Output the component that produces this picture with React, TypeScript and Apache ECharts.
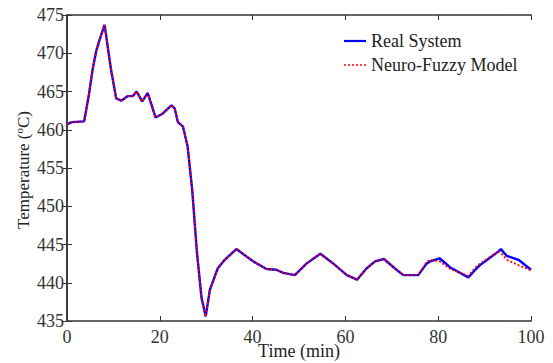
import React, { useEffect, useRef } from "react";
import * as echarts from "echarts";

const timeMin = [0, 1, 3.7, 4.7, 5.5, 6.3, 7.0, 8.1, 9.5, 10.6, 11.7, 13.1, 14.2, 15, 16.2, 17.4, 19.1, 20.6, 22.5, 23.2, 23.9, 25, 26, 27, 28, 29, 29.9, 30.8, 32.5, 34, 36.5, 40.1, 43, 45.1, 46.6, 49.1, 51.6, 54.6, 57.4, 60.3, 62.5, 64.6, 66.4, 68.3, 71, 72.5, 75.7, 77.5, 78.3, 80.3, 82.6, 86.5, 88, 89, 91, 93, 93.5, 94.8, 97.3, 100];
const realSystem = [460.7, 461, 461.1, 464.5, 467.8, 470.3, 471.7, 473.7, 467.8, 464.1, 463.8, 464.4, 464.4, 465, 463.7, 464.8, 461.6, 462.1, 463.2, 462.8, 461, 460.4, 457.8, 452, 444, 438, 435.6, 439.1, 441.9, 443, 444.4, 442.8, 441.8, 441.7, 441.3, 441, 442.5, 443.8, 442.5, 441, 440.4, 441.9, 442.8, 443.1, 441.7, 441, 441, 442.5, 442.8, 443.2, 442, 440.7, 441.7, 442.3, 443.2, 444.1, 444.4, 443.5, 443, 441.7];
const neuroFuzzy = [460.7, 461, 461.1, 464.5, 467.8, 470.3, 471.7, 473.7, 467.8, 464.1, 463.8, 464.4, 464.4, 465, 463.7, 464.8, 461.6, 462.1, 463.2, 462.8, 461, 460.4, 457.8, 452, 444, 438, 435.6, 439.1, 441.9, 443, 444.4, 442.8, 441.8, 441.7, 441.3, 441, 442.5, 443.8, 442.5, 441, 440.4, 441.9, 442.8, 443.1, 441.7, 441, 441, 442.7, 443, 442.8, 441.8, 440.9, 442, 442.5, 443.3, 444.1, 443.9, 443, 442.3, 441.6];

const xTicks = [0, 20, 40, 60, 80, 100];
const yTicks = [435, 440, 445, 450, 455, 460, 465, 470, 475];

export default function App() {
  const ref = useRef<HTMLDivElement>(null);
  useEffect(() => {
    if (!ref.current) return;
    const chart = echarts.init(ref.current, null, { renderer: "svg" });
    const font = "'Liberation Serif', 'Times New Roman', serif";
    const axisColor = "#333";
    const real = timeMin.map((t, i) => [t, realSystem[i]]);
    const model = timeMin.map((t, i) => [t, neuroFuzzy[i]]);
    chart.setOption({
      animation: false,
      backgroundColor: "#fff",
      textStyle: { fontFamily: font },
      grid: { left: 67, right: 22, top: 15, bottom: 42, outerBoundsMode: "none", containLabel: false },
      legend: {
        left: 339,
        top: 27,
        orient: "vertical",
        itemWidth: 22,
        itemHeight: 10,
        itemGap: 6,
        textStyle: { fontFamily: font, fontSize: 18, color: "#222" },
        data: [
          { name: "Real System", icon: "path://M0,0 L22,0 L22,2.2 L0,2.2 Z", itemStyle: { color: "#0000ff" } },
          { name: "Neuro-Fuzzy Model", icon: "path://M0,0 L2,0 L2,1.5 L0,1.5 Z M4,0 L6,0 L6,1.5 L4,1.5 Z M8,0 L10,0 L10,1.5 L8,1.5 Z M12,0 L14,0 L14,1.5 L12,1.5 Z M16,0 L18,0 L18,1.5 L16,1.5 Z M20,0 L22,0 L22,1.5 L20,1.5 Z", itemStyle: { color: "#ff0000" } },
        ],
      },
      graphic: [
        {
          type: "text",
          x: 299,
          y: 351,
          style: {
            text: "Time (min)",
            fontFamily: font,
            fontSize: 18,
            fill: "#222",
            align: "center",
            verticalAlign: "middle",
          },
        },
        {
          type: "text",
          x: 23,
          y: 170,
          rotation: Math.PI / 2,
          style: {
            text: "{a|Temperature (}{s|o}{a|C)}",
            align: "center",
            verticalAlign: "middle",
            rich: {
              a: { fontFamily: font, fontSize: 17, fill: "#222", color: "#222" },
              s: { fontFamily: font, fontSize: 11, fill: "#222", color: "#222", verticalAlign: "top", padding: [0, 0, 8, 0] },
            },
          },
        },
      ],
      xAxis: [
        {
          type: "value",
          min: xTicks[0],
          max: xTicks[xTicks.length - 1],
          interval: 20,
          axisLine: { lineStyle: { color: axisColor, width: 1.5 } },
          axisTick: { inside: true, length: 5, lineStyle: { color: axisColor } },
          axisLabel: { fontFamily: font, fontSize: 18, color: "#333", margin: 7 },
          splitLine: { show: false },
        },
        {
          type: "value",
          position: "top",
          min: 0,
          max: 100,
          interval: 20,
          axisLine: { show: true, lineStyle: { color: axisColor, width: 1.5 } },
          axisTick: { inside: true, length: 5, lineStyle: { color: axisColor } },
          axisLabel: { show: false },
          splitLine: { show: false },
        },
      ],
      yAxis: [
        {
          type: "value",
          min: yTicks[0],
          max: yTicks[yTicks.length - 1],
          interval: 5,
          axisLine: { show: true, lineStyle: { color: axisColor, width: 1.5 } },
          axisTick: { inside: true, length: 5, lineStyle: { color: axisColor } },
          axisLabel: { fontFamily: font, fontSize: 18, color: "#333", margin: 3 },
          splitLine: { show: false },
        },
        {
          type: "value",
          position: "right",
          min: 435,
          max: 475,
          interval: 5,
          axisLine: { show: true, lineStyle: { color: axisColor, width: 1.5 } },
          axisTick: { inside: true, length: 5, lineStyle: { color: axisColor } },
          axisLabel: { show: false },
          splitLine: { show: false },
        },
      ],
      series: [
        {
          name: "Real System",
          type: "line",
          data: real,
          showSymbol: false,
          symbol: "none",
          lineStyle: { color: "#0000ff", width: 2.4 },
          itemStyle: { color: "#0000ff" },
          z: 2,
        },
        {
          name: "Neuro-Fuzzy Model",
          type: "line",
          data: model,
          showSymbol: false,
          symbol: "none",
          lineStyle: { color: "#ff0000", width: 1.8, type: [2, 2] },
          itemStyle: { color: "#ff0000" },
          z: 3,
        },
      ],
    });
    return () => chart.dispose();
  }, []);
  return <div ref={ref} style={{ width: 553, height: 363, position: "absolute", left: 0, top: 0 }} />;
}
